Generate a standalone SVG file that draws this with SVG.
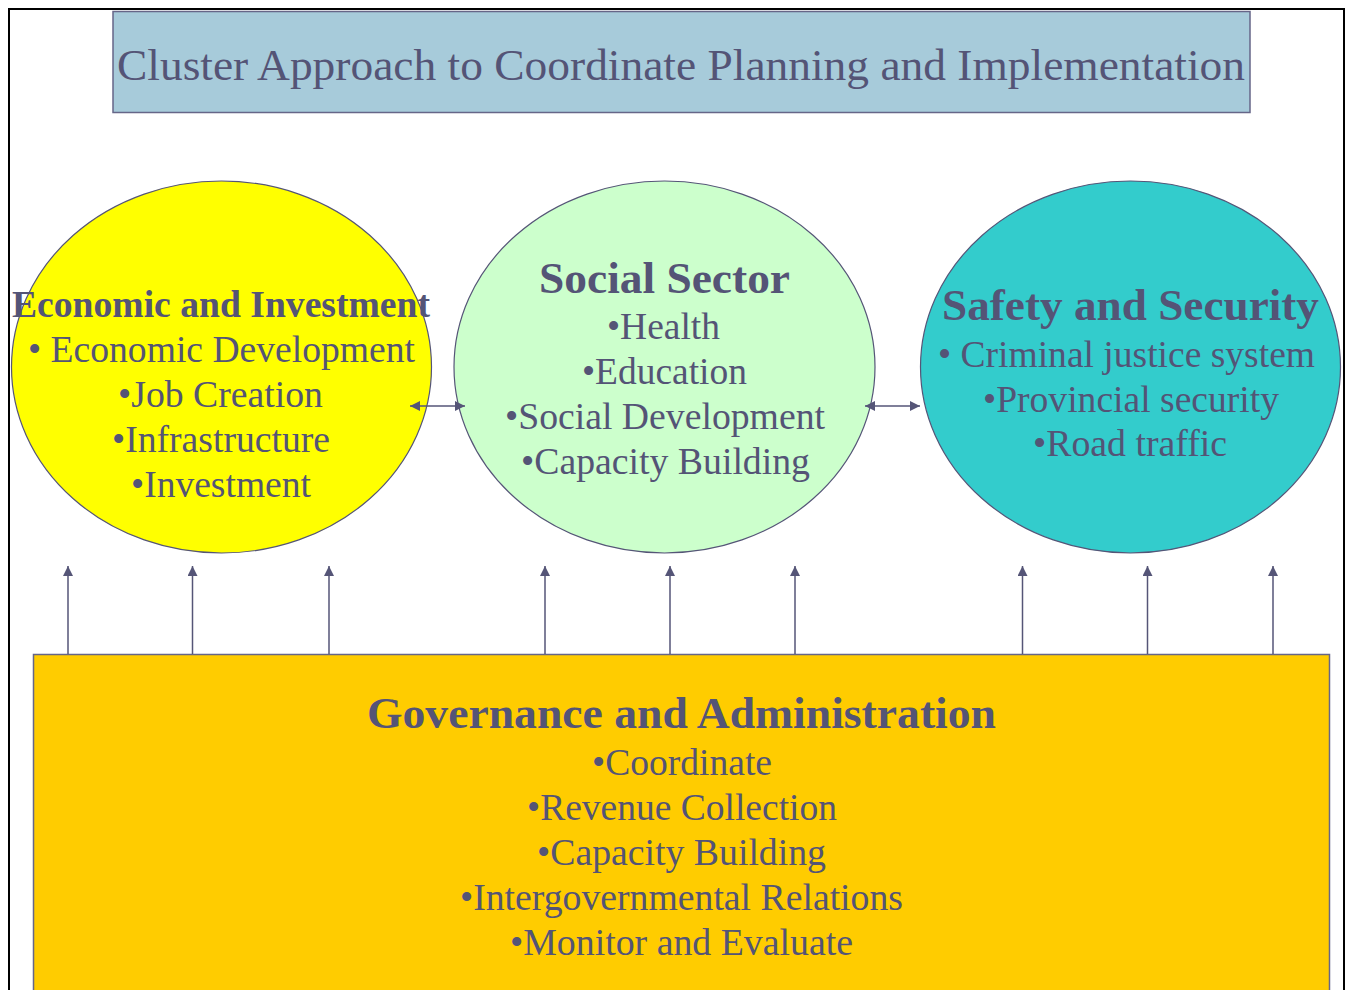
<svg xmlns="http://www.w3.org/2000/svg" width="1346" height="990" viewBox="0 0 1346 990">
<style>
text{font-family:"Liberation Serif","Times New Roman",serif;fill:#545476;text-anchor:middle}
.t{font-size:45px}
.h{font-size:45px;font-weight:bold}
.hs{font-size:37.5px;font-weight:bold}
.b{font-size:37.5px}
.sh{stroke:#555577;stroke-width:1.2}
.c{stroke:#555577;stroke-width:1.5;fill:none}
</style>
<defs>
<marker id="ah" viewBox="0 0 10 10" refX="10" refY="5" markerWidth="10" markerHeight="10" markerUnits="userSpaceOnUse" orient="auto-start-reverse">
<path d="M0,0 L10,5 L0,10 Z" fill="#555577"/>
</marker>
</defs>
<rect x="0" y="0" width="1346" height="990" fill="#fff"/>
<rect x="9" y="9" width="1335" height="1010" fill="none" stroke="#000" stroke-width="2"/>
<g id="title">
<rect x="113" y="11.5" width="1137" height="101" fill="#a7cbda" stroke="#666688" stroke-width="1.5"/>
<text class="t" x="681" y="80" textLength="1128" lengthAdjust="spacingAndGlyphs">Cluster Approach to Coordinate Planning and Implementation</text>
</g>
<g id="governance">
<rect x="33.5" y="654.5" width="1296" height="400" fill="#ffcc00" stroke="#666688" stroke-width="1.5"/>
<text class="h" x="681.5" y="728" textLength="629" lengthAdjust="spacingAndGlyphs">Governance and Administration</text>
<text class="b" x="682" y="775" textLength="180" lengthAdjust="spacingAndGlyphs">•Coordinate</text>
<text class="b" x="682" y="820" textLength="310" lengthAdjust="spacingAndGlyphs">•Revenue Collection</text>
<text class="b" x="681.5" y="865" textLength="289" lengthAdjust="spacingAndGlyphs">•Capacity Building</text>
<text class="b" x="681.5" y="910" textLength="443" lengthAdjust="spacingAndGlyphs">•Intergovernmental Relations</text>
<text class="b" x="681.5" y="955" textLength="343" lengthAdjust="spacingAndGlyphs">•Monitor and Evaluate</text>
</g>
<g id="economic">
<ellipse cx="221.5" cy="367" rx="210" ry="186" fill="#ffff00" class="sh"/>
<text class="hs" x="221" y="317" textLength="418" lengthAdjust="spacingAndGlyphs">Economic and Investment</text>
<text class="b" x="221.5" y="362" textLength="387" lengthAdjust="spacingAndGlyphs">• Economic Development</text>
<text class="b" x="220.5" y="407" textLength="205" lengthAdjust="spacingAndGlyphs">•Job Creation</text>
<text class="b" x="221" y="452" textLength="218" lengthAdjust="spacingAndGlyphs">•Infrastructure</text>
<text class="b" x="221" y="497" textLength="180" lengthAdjust="spacingAndGlyphs">•Investment</text>
</g>
<g id="social">
<ellipse cx="664.5" cy="367" rx="210.5" ry="186" fill="#ccffcc" class="sh"/>
<text class="h" x="664.5" y="293" textLength="251" lengthAdjust="spacingAndGlyphs">Social Sector</text>
<text class="b" x="663.5" y="339" textLength="113" lengthAdjust="spacingAndGlyphs">•Health</text>
<text class="b" x="664.5" y="384" textLength="165" lengthAdjust="spacingAndGlyphs">•Education</text>
<text class="b" x="665" y="429" textLength="320" lengthAdjust="spacingAndGlyphs">•Social Development</text>
<text class="b" x="665.5" y="474" textLength="289" lengthAdjust="spacingAndGlyphs">•Capacity Building</text>
</g>
<g id="safety">
<ellipse cx="1130.5" cy="367" rx="210" ry="186" fill="#33cccc" class="sh"/>
<text class="h" x="1130.5" y="320" textLength="377" lengthAdjust="spacingAndGlyphs">Safety and Security</text>
<text class="b" x="1126.5" y="367" textLength="377" lengthAdjust="spacingAndGlyphs">• Criminal justice system</text>
<text class="b" x="1131" y="412" textLength="296" lengthAdjust="spacingAndGlyphs">•Provincial security</text>
<text class="b" x="1130" y="456" textLength="194" lengthAdjust="spacingAndGlyphs">•Road traffic</text>
</g>
<g id="connectors">
<line class="c" x1="410" y1="406" x2="465" y2="406" marker-start="url(#ah)" marker-end="url(#ah)"/>
<line class="c" x1="865" y1="406" x2="920" y2="406" marker-start="url(#ah)" marker-end="url(#ah)"/>
<line class="c" x1="68" y1="654" x2="68" y2="566" marker-end="url(#ah)"/>
<line class="c" x1="192.5" y1="654" x2="192.5" y2="566" marker-end="url(#ah)"/>
<line class="c" x1="329" y1="654" x2="329" y2="566" marker-end="url(#ah)"/>
<line class="c" x1="545" y1="654" x2="545" y2="566" marker-end="url(#ah)"/>
<line class="c" x1="670" y1="654" x2="670" y2="566" marker-end="url(#ah)"/>
<line class="c" x1="795" y1="654" x2="795" y2="566" marker-end="url(#ah)"/>
<line class="c" x1="1022.5" y1="654" x2="1022.5" y2="566" marker-end="url(#ah)"/>
<line class="c" x1="1147.5" y1="654" x2="1147.5" y2="566" marker-end="url(#ah)"/>
<line class="c" x1="1273" y1="654" x2="1273" y2="566" marker-end="url(#ah)"/>
</g>
</svg>
